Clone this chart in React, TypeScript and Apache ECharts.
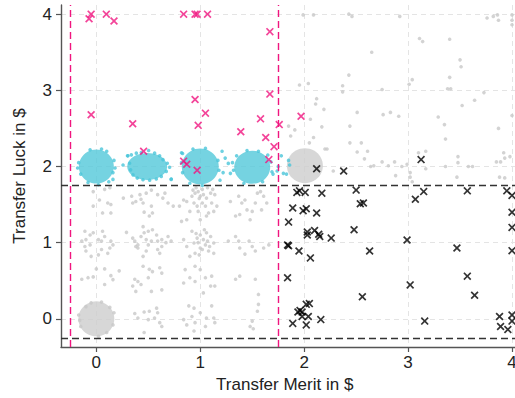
import { useEffect, useRef } from "react";
import * as echarts from "echarts";

// ---- axis ticks ----
const xTicks = [0, 1, 2, 3, 4];
const yTicks = [0, 1, 2, 3, 4];

// ---- cut-off thresholds (dashed guides) ----
const meritCuts = [-0.25, 1.75];
const luckCuts = [-0.25, 1.75];

// ---- dense jitter clusters, drawn as filled blobs (centres) ----
const grayBlobs: [number, number][] = [
  [0, 0],
  [2.007, 2.01],
];
const cyanBlobs: [number, number][] = [
  [0, 2.0],
  [0.49, 2.0],
  [1.0, 2.0],
  [1.5, 1.99],
];

// ---- individual grey observations ----
const grayDots: [number, number][] = [
  // merit 0, luck 1.5
  [-0.03, 1.67], [0.03, 1.56], [0.08, 1.7], [0.13, 1.72], [0.11, 1.52], [0.14, 1.5], [-0.03, 1.48], [0.06, 1.39], [0.14, 1.39],
  // merit 0.5, luck 1.5
  [0.26, 1.585], [0.35, 1.52], [0.38, 1.54], [0.43, 1.57], [0.34, 1.61], [0.42, 1.63], [0.48, 1.65], [0.53, 1.69], [0.45, 1.52],
  [0.51, 1.35], [0.54, 1.39], [0.46, 1.4], [0.53, 1.48], [0.59, 1.63], [0.64, 1.585], [0.69, 1.52], [0.74, 1.48], [0.66, 1.65],
  [0.8, 1.48], [0.82, 1.28],
  // merit 0, luck 1
  [-0.11, 1.15], [-0.06, 1.1], [-0.03, 1.13], [-0.1, 1.04], [-0.14, 1.02], [-0.11, 0.95], [-0.06, 0.97], [-0.1, 0.89], [0.02, 1.04],
  [0.05, 1.02], [0.06, 1.15], [0.08, 1.08], [0.14, 1.02], [0.16, 0.97], [0.13, 0.93], [0.05, 0.91], [-0.05, 0.82], [0.02, 0.84],
  [0.11, 0.86],
  // merit 0.5, luck 1
  [0.29, 1.135], [0.35, 1.06], [0.37, 1.02], [0.38, 0.95], [0.4, 0.93], [0.45, 1.21], [0.46, 1.13], [0.5, 1.15], [0.54, 1.17],
  [0.58, 1.1], [0.43, 1.08], [0.48, 1.04], [0.53, 1.02], [0.59, 1.02], [0.63, 1.04], [0.67, 1.0], [0.69, 1.08], [0.72, 1.02],
  [0.48, 0.89], [0.45, 0.82], [0.59, 0.91], [0.63, 0.95], [0.61, 0.86], [0.5, 0.97], [0.4, 0.97],
  // merit 0, luck 0.5
  [0.0, 0.655], [0.08, 0.655], [0.22, 0.63], [-0.08, 0.54], [-0.14, 0.52], [-0.03, 0.55], [0.14, 0.567], [0.16, 0.515], [0.08, 0.45],
  // merit 0.5, luck 0.5
  [0.45, 0.69], [0.51, 0.65], [0.54, 0.62], [0.61, 0.67], [0.63, 0.6], [0.5, 0.54], [0.37, 0.52], [0.35, 0.43], [0.4, 0.49],
  [0.43, 0.45], [0.38, 0.36], [0.53, 0.36], [0.63, 0.38],
  // merit 0.5, luck 0
  [0.37, 0.07], [0.4, 0.01], [0.46, 0.09], [0.51, 0.1], [0.58, 0.14], [0.59, 0.08], [0.5, -0.01], [0.56, 0.01], [0.61, -0.05],
  [0.63, -0.1], [0.46, -0.18],
  // merit 0, luck 0 (rim of the blob)
  [-0.17, 0.05], [-0.15, -0.1], [0.17, 0.08], [0.16, -0.08], [0.05, 0.22], [-0.05, 0.21], [0.02, -0.23], [0.1, -0.18],
  [-0.1, 0.16], [0.13, 0.15], [-0.16, -0.02],
  // merit 1, luck 1.5
  [0.84, 1.56], [0.87, 1.54], [0.92, 1.61], [0.95, 1.65], [0.98, 1.67], [1.0, 1.61], [1.03, 1.63], [1.06, 1.585], [1.1, 1.65],
  [1.14, 1.63], [0.94, 1.52], [0.97, 1.48], [1.02, 1.52], [1.05, 1.48], [1.11, 1.52], [1.16, 1.48], [0.9, 1.41], [0.98, 1.41],
  [1.08, 1.39], [1.13, 1.41], [0.87, 1.3], [1.0, 1.3], [1.06, 1.35], [0.96, 1.72], [1.02, 1.7], [1.07, 1.72], [0.93, 1.69],
  [1.12, 1.7], [0.99, 1.58],
  // merit 1.5, luck 1.5
  [1.29, 1.54], [1.37, 1.61], [1.4, 1.52], [1.45, 1.43], [1.5, 1.41], [1.55, 1.65], [1.58, 1.67], [1.61, 1.61], [1.64, 1.52],
  [1.59, 1.43], [1.34, 1.35], [1.48, 1.3], [1.38, 1.37], [1.53, 1.52], [1.43, 1.56],
  // merit 1, luck 1
  [0.84, 1.04], [0.87, 0.95], [0.92, 1.15], [0.94, 0.995], [0.97, 1.06], [1.0, 1.1], [1.03, 1.04], [1.06, 1.13], [1.1, 1.08],
  [1.13, 0.995], [1.02, 0.91], [0.95, 0.86], [1.08, 0.89], [1.13, 0.86], [0.9, 0.82], [0.98, 1.0], [1.05, 0.97], [1.0, 0.93],
  [1.07, 1.02], [0.96, 1.12], [1.04, 1.17], [0.99, 0.84], [1.09, 0.95],
  // merit 1.5, luck 1
  [1.34, 1.08], [1.37, 1.02], [1.38, 0.93], [1.43, 0.85], [1.5, 0.95], [1.53, 0.89], [1.61, 0.93], [1.66, 0.97], [1.27, 1.02], [1.47, 1.02],
  // merit 1, luck 0.5
  [0.855, 0.646], [0.95, 0.69], [1.0, 0.646], [0.9, 0.54], [1.05, 0.54], [1.11, 0.56], [0.95, 0.49], [0.84, 0.47], [1.1, 0.43],
  [1.14, 0.43], [1.03, 0.34],
  // merit 1.5, luck 0.5
  [1.34, 0.52], [1.38, 0.56], [1.53, 0.52], [1.56, 0.32],
  // merit 1, luck 0
  [0.89, 0.17], [0.94, 0.14], [0.92, 0.03], [0.84, -0.01], [0.87, -0.08], [0.95, -0.05], [1.0, 0.08], [1.06, 0.01], [1.11, 0.17],
  [1.13, 0.01], [1.14, -0.05], [1.05, -0.1], [0.94, -0.16],
  // merit 1.5, luck 0
  [1.56, 0.19], [1.55, 0.1], [1.5, -0.03], [1.48, -0.1], [1.51, -0.13],
  // upper-right region
  [1.85, 2.53], [1.87, 2.4], [1.91, 2.48], [1.955, 3.07], [2.04, 3.09], [2.12, 2.89], [2.11, 2.82], [2.19, 2.75], [2.06, 2.62],
  [2.17, 2.52], [2.09, 2.38], [2.05, 2.31], [2.2, 2.23], [2.22, 2.23], [1.99, 3.99], [2.09, 3.99], [2.43, 4.0], [2.46, 3.97],
  [2.92, 3.97], [2.65, 3.5], [2.43, 3.2], [2.37, 3.06], [2.37, 2.98], [2.51, 2.71], [2.76, 2.68], [2.83, 2.71], [2.91, 2.66],
  [2.75, 3.01], [2.44, 2.53], [2.44, 2.31], [2.55, 2.31], [2.61, 2.2], [2.51, 2.19], [2.58, 2.1], [2.64, 2.0], [2.67, 2.01],
  [2.75, 2.06], [2.81, 2.01], [2.87, 2.06], [2.94, 2.0], [2.99, 2.03], [2.88, 1.88], [3.02, 1.92], [3.02, 1.86], [3.04, 1.8],
  [3.01, 3.08], [3.04, 3.14], [3.11, 3.68], [3.14, 3.64], [3.17, 2.2], [3.17, 1.97], [3.1, 2.18], [3.4, 3.67], [3.5, 3.4],
  [3.51, 3.31], [3.4, 3.17], [3.38, 3.02], [3.41, 3.02], [3.64, 2.87], [3.52, 2.8], [3.73, 2.97], [3.29, 2.65], [3.35, 2.55],
  [3.36, 2.36], [3.48, 2.13], [3.48, 2.05], [3.36, 2.0], [3.58, 2.0], [3.62, 2.0], [3.47, 1.86], [3.76, 3.95], [3.82, 3.97],
  [3.86, 3.99], [3.87, 3.92], [4.0, 3.99], [4.0, 3.92], [4.0, 3.86], [3.87, 2.5], [3.92, 2.18], [3.93, 2.11], [3.98, 2.13],
  [3.85, 2.06], [3.89, 2.06], [3.88, 1.86], [3.93, 1.85], [4.0, 2.67], [2.28, 1.94],
];

// ---- individual cyan observations (luck = 2, merit below the cut) ----
const cyanDots: [number, number][] = [
  // around merit 0
  [-0.17, 2.05], [-0.15, 1.9], [0.17, 2.08], [0.16, 1.92], [0.05, 2.23], [-0.06, 2.22], [0.02, 1.76], [-0.08, 1.79],
  [0.12, 1.8], [0.18, 1.98], [-0.18, 1.98], [0.1, 2.2],
  // around merit 0.5
  [0.337, 2.153], [0.385, 2.175], [0.433, 2.184], [0.503, 2.21], [0.561, 2.175], [0.609, 2.14], [0.641, 2.09], [0.683, 2.043],
  [0.705, 1.99], [0.673, 1.935], [0.625, 1.87], [0.577, 1.835], [0.513, 1.82], [0.449, 1.826], [0.394, 1.848], [0.353, 1.89],
  [0.33, 1.956], [0.32, 2.043], [0.721, 1.835], [0.304, 2.14], [0.257, 2.02],
  // around merit 1
  [0.82, 2.05], [0.83, 1.92], [1.17, 2.08], [1.18, 1.95], [1.05, 2.24], [0.93, 2.23], [1.02, 1.75], [0.9, 1.78],
  // around merit 1.5
  [1.31, 2.05], [1.32, 1.95], [1.68, 2.06], [1.69, 1.93], [1.45, 2.21], [1.56, 2.2], [1.42, 1.78], [1.6, 1.8], [1.35, 2.14], [1.65, 2.15],
  // stragglers
  [0.82, 2.18], [1.21, 2.2], [1.24, 2.11], [1.27, 2.04], [1.22, 1.92], [1.19, 1.82], [1.29, 1.91], [1.74, 1.94], [1.78, 2.14],
  [1.75, 2.0], [1.8, 1.91], [1.83, 1.9], [1.85, 2.08], [1.86, 2.02], [1.7, 1.9], [0.3, 2.14], [0.16, 1.83], [0.72, 1.83], [0.83, 2.17],
];

// ---- luck transfers above the cut (pink crosses) ----
const luckOutliers: [number, number][] = [
  [-0.07, 3.94], [-0.05, 4.0], [0.096, 4.0], [0.17, 3.91], [0.84, 4.0], [0.95, 4.0], [0.97, 4.0], [1.07, 4.0],
  [-0.05, 2.68], [0.35, 2.56], [0.455, 2.2], [0.95, 2.88], [1.05, 2.7], [0.98, 2.54], [0.84, 2.07], [0.87, 2.03],
  [0.97, 1.95], [1.39, 2.455], [1.58, 2.625], [1.67, 3.77], [1.67, 2.95], [1.97, 2.66], [1.76, 2.55], [1.63, 2.38],
  [1.71, 2.26], [1.66, 2.09],
];

// ---- merit transfers above the cut (black crosses) ----
const meritOutliers: [number, number][] = [
  [1.93, 1.66], [1.955, 1.68], [2.01, 1.66], [2.17, 1.65], [2.5, 1.69], [2.54, 1.51], [2.57, 1.52], [1.89, 1.455],
  [1.99, 1.42], [2.02, 1.445], [2.12, 1.39], [1.85, 1.27], [2.03, 1.14], [2.03, 1.1], [2.1, 1.16], [2.14, 1.11],
  [2.15, 1.08], [2.26, 1.06], [2.48, 1.17], [1.84, 0.97], [1.85, 0.96], [1.95, 0.89], [2.06, 0.8], [2.63, 0.89],
  [1.84, 0.54], [2.56, 0.29], [2.02, 0.19], [2.05, 0.2], [1.96, 0.11], [1.98, 0.09], [1.94, 0.09], [1.98, 0.03],
  [2.04, 0.03], [1.89, -0.06], [2.02, -0.08], [2.16, -0.01], [2.12, 1.97], [2.38, 1.94], [3.125, 2.09], [3.07, 1.57],
  [3.15, 1.67], [3.57, 1.68], [3.95, 1.68], [4.0, 1.62], [4.0, 1.4], [4.0, 1.2], [2.99, 1.035], [3.47, 0.93],
  [4.0, 0.895], [3.57, 0.56], [3.02, 0.445], [3.64, 0.31], [3.16, -0.03], [3.88, 0.03], [4.0, 0.05], [3.89, -0.1],
  [4.0, -0.03], [3.96, -0.14],
];

// ---- styling ----
const GRAY = "#c8c8c8";
const GRAY_BLOB = "#cdcdcd";
const CYAN = "#4bc6d9";
const CYAN_BLOB = "#52c8da";
const PINK = "#f0157f";
const AXIS = "#555555";
const TEXT = "#222222";
const FONT = "'Liberation Sans', Arial, sans-serif";
const GRAY_BLOB_PX: [number, number][] = [[36, 35], [36, 35]];
const CYAN_BLOB_PX: [number, number][] = [[35, 34], [40, 27], [37, 36], [36, 33]];
const CROSS =
  "path://M0,1.5L1.5,0L5,3.5L8.5,0L10,1.5L6.5,5L10,8.5L8.5,10L5,6.5L1.5,10L0,8.5L3.5,5Z";
// The plot runs past the right edge of the frame, so the canvas is wider than the view.
const VIEW_W = 515;
const VIEW_H = 398;
const CANVAS_W = 530;

export default function App() {
  const ref = useRef<HTMLDivElement>(null);

  useEffect(() => {
    if (!ref.current) return;
    const chart = echarts.init(ref.current, undefined, { renderer: "svg" });

    const axisCommon = {
      type: "value" as const,
      nameLocation: "middle" as const,
      nameTextStyle: { fontSize: 17, color: TEXT, fontFamily: FONT },
      axisLine: { show: true, onZero: false, lineStyle: { color: AXIS, width: 1.4 } },
      splitLine: { show: true, lineStyle: { color: "#e4e4e4", width: 1, type: [5, 4] as number[] } },
    };

    chart.setOption({
      animation: false,
      backgroundColor: "#ffffff",
      grid: { left: 61, top: 5, right: 7.6, bottom: 51, containLabel: false },
      xAxis: {
        ...axisCommon,
        min: -0.34,
        max: 4.1,
        name: "Transfer Merit in $",
        nameGap: 27,
        // keep the title centred on the visible part of the axis
        nameTextStyle: { fontSize: 17, color: TEXT, fontFamily: FONT, padding: [0, 14, 0, 0] },
        axisTick: { show: true, length: 5, customValues: xTicks, lineStyle: { color: AXIS, width: 1.2 } },
        axisLabel: { customValues: xTicks, fontSize: 17, color: TEXT, fontFamily: FONT, margin: 7 },
      },
      yAxis: {
        ...axisCommon,
        min: -0.37,
        max: 4.12,
        name: "Transfer Luck in $",
        nameGap: 33,
        axisTick: { show: true, length: 5, customValues: yTicks, lineStyle: { color: AXIS, width: 1.2 } },
        axisLabel: { customValues: yTicks, fontSize: 17, color: TEXT, fontFamily: FONT, margin: 9 },
      },
      series: [
        {
          type: "scatter",
          data: grayBlobs,
          symbol: "circle",
          symbolSize: (_v: unknown, p: { dataIndex: number }) => GRAY_BLOB_PX[p.dataIndex],
          itemStyle: { color: GRAY_BLOB },
          z: 1,
        },
        {
          type: "scatter",
          data: grayDots,
          symbol: "circle",
          symbolSize: 3.6,
          itemStyle: { color: GRAY },
          z: 1,
        },
        {
          type: "scatter",
          data: cyanBlobs,
          symbol: "circle",
          symbolSize: (_v: unknown, p: { dataIndex: number }) => CYAN_BLOB_PX[p.dataIndex],
          itemStyle: { color: CYAN_BLOB },
          z: 2,
        },
        {
          type: "scatter",
          data: cyanDots,
          symbol: "circle",
          symbolSize: 3.6,
          itemStyle: { color: CYAN },
          z: 2,
        },
        {
          type: "scatter",
          data: [],
          z: 3,
          markLine: {
            silent: true,
            symbol: "none",
            label: { show: false },
            emphasis: { disabled: true },
            data: [
              ...meritCuts.map((v) => ({ xAxis: v, lineStyle: { color: PINK, width: 1.4, type: [7, 4] } })),
              ...luckCuts.map((v) => ({ yAxis: v, lineStyle: { color: "#333333", width: 1.4, type: [7, 4] } })),
            ],
          },
        },
        {
          type: "scatter",
          data: luckOutliers,
          symbol: CROSS,
          symbolSize: 8,
          itemStyle: { color: PINK },
          z: 4,
        },
        {
          type: "scatter",
          data: meritOutliers,
          symbol: CROSS,
          symbolSize: 8,
          itemStyle: { color: "#000000" },
          z: 4,
        },
      ],
    });

    return () => chart.dispose();
  }, []);

  return (
    <div
      style={{
        position: "absolute",
        left: 0,
        top: 0,
        width: VIEW_W,
        height: VIEW_H,
        overflow: "hidden",
        background: "#ffffff",
      }}
    >
      <div ref={ref} style={{ width: CANVAS_W, height: VIEW_H }} />
    </div>
  );
}
